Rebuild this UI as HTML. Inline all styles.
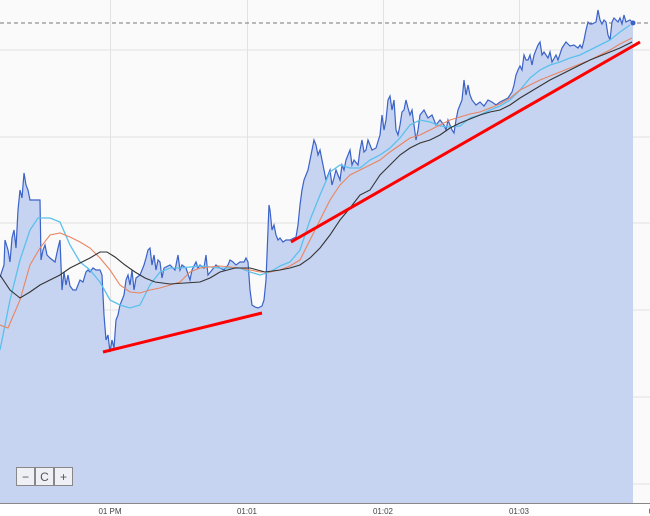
<!DOCTYPE html>
<html><head><meta charset="utf-8"><style>
html,body{margin:0;padding:0;background:#fff;}
svg{display:block;font-family:"Liberation Sans",sans-serif;}
</style></head><body>
<svg width="650" height="516" viewBox="0 0 650 516" xmlns="http://www.w3.org/2000/svg">
<rect x="0" y="0" width="650" height="503" fill="#fafafa"/>
<rect x="0" y="503" width="650" height="13" fill="#fff"/>
<g stroke="#e2e2e2" stroke-width="1">
<line x1="0" y1="50" x2="650" y2="50"/><line x1="0" y1="137" x2="650" y2="137"/>
<line x1="0" y1="223" x2="650" y2="223"/><line x1="0" y1="310" x2="650" y2="310"/>
<line x1="0" y1="397" x2="650" y2="397"/><line x1="0" y1="484" x2="650" y2="484"/>
<line x1="110.5" y1="0" x2="110.5" y2="503"/><line x1="247.5" y1="0" x2="247.5" y2="503"/>
<line x1="383.5" y1="0" x2="383.5" y2="503"/><line x1="519.5" y1="0" x2="519.5" y2="503"/>
</g>
<line x1="0" y1="23" x2="650" y2="23" stroke="#777" stroke-dasharray="4,3" stroke-width="1"/>
<path d="M0,277 L4,265 L5,240 L8,250 L10,262 L12,238 L14,230 L16,248 L18,210 L20,190 L22,198 L24,173 L26,185 L28,190 L30,200 L36,200 L40,200 L41,260 L43,250 L45,245 L47,255 L50,258 L55,262 L58,248 L60,240 L62,290 L64,272 L66,285 L68,275 L70,286 L73,290 L76,290 L80,280 L83,282 L86,272 L88,270 L90,272 L93,268 L96,270 L100,270 L102,275 L104,315 L106,340 L108,335 L110,352 L112,340 L114,348 L116,320 L118,315 L120,305 L122,300 L124,295 L126,280 L128,275 L130,285 L132,270 L134,290 L136,278 L140,275 L142,270 L144,265 L146,258 L148,250 L150,248 L152,265 L154,255 L156,270 L158,260 L160,262 L162,278 L164,268 L170,265 L175,270 L178,255 L180,270 L182,265 L186,268 L190,280 L192,270 L196,262 L198,268 L200,265 L204,268 L206,255 L208,275 L212,270 L216,265 L220,268 L224,270 L228,265 L230,260 L233,262 L236,265 L240,262 L244,262 L246,258 L248,262 L250,290 L252,305 L255,307 L258,308 L262,306 L264,300 L266,280 L268,230 L269,205 L270,210 L272,230 L274,225 L276,235 L278,240 L280,238 L283,242 L286,240 L290,240 L294,238 L296,237 L298,225 L300,205 L302,190 L304,180 L306,175 L308,170 L310,160 L312,150 L314,140 L316,145 L318,155 L320,150 L322,160 L324,170 L326,180 L328,175 L330,170 L332,185 L334,178 L336,170 L338,175 L340,180 L342,165 L344,170 L346,160 L348,155 L350,150 L352,165 L354,160 L358,165 L360,150 L362,140 L364,152 L366,150 L368,140 L372,150 L376,148 L380,135 L382,115 L384,130 L386,120 L388,100 L390,96 L392,110 L394,100 L396,130 L398,135 L400,125 L402,112 L404,110 L406,100 L408,108 L410,115 L412,110 L416,140 L418,130 L420,115 L424,110 L428,118 L432,115 L436,125 L440,120 L444,125 L446,130 L448,120 L452,130 L454,133 L456,120 L458,110 L460,105 L462,100 L464,80 L466,95 L468,85 L470,95 L472,100 L476,105 L480,102 L484,106 L488,100 L492,102 L496,105 L500,102 L504,100 L508,98 L512,92 L514,85 L516,75 L518,70 L520,66 L522,70 L524,55 L526,60 L528,60 L530,55 L532,65 L534,55 L538,45 L540,42 L542,55 L544,52 L548,58 L550,52 L552,62 L556,55 L558,60 L562,48 L566,42 L570,46 L574,45 L578,48 L580,45 L582,48 L584,40 L586,30 L588,22 L590,24 L592,24 L596,22 L598,10 L600,20 L602,24 L604,20 L606,22 L608,35 L610,40 L612,22 L614,18 L618,22 L620,18 L622,24 L624,15 L626,22 L630,20 L633,23 L633,503 L0,503 Z" fill="#c6d4f2" stroke="none"/>
<path d="M0,277 L4,265 L5,240 L8,250 L10,262 L12,238 L14,230 L16,248 L18,210 L20,190 L22,198 L24,173 L26,185 L28,190 L30,200 L36,200 L40,200 L41,260 L43,250 L45,245 L47,255 L50,258 L55,262 L58,248 L60,240 L62,290 L64,272 L66,285 L68,275 L70,286 L73,290 L76,290 L80,280 L83,282 L86,272 L88,270 L90,272 L93,268 L96,270 L100,270 L102,275 L104,315 L106,340 L108,335 L110,352 L112,340 L114,348 L116,320 L118,315 L120,305 L122,300 L124,295 L126,280 L128,275 L130,285 L132,270 L134,290 L136,278 L140,275 L142,270 L144,265 L146,258 L148,250 L150,248 L152,265 L154,255 L156,270 L158,260 L160,262 L162,278 L164,268 L170,265 L175,270 L178,255 L180,270 L182,265 L186,268 L190,280 L192,270 L196,262 L198,268 L200,265 L204,268 L206,255 L208,275 L212,270 L216,265 L220,268 L224,270 L228,265 L230,260 L233,262 L236,265 L240,262 L244,262 L246,258 L248,262 L250,290 L252,305 L255,307 L258,308 L262,306 L264,300 L266,280 L268,230 L269,205 L270,210 L272,230 L274,225 L276,235 L278,240 L280,238 L283,242 L286,240 L290,240 L294,238 L296,237 L298,225 L300,205 L302,190 L304,180 L306,175 L308,170 L310,160 L312,150 L314,140 L316,145 L318,155 L320,150 L322,160 L324,170 L326,180 L328,175 L330,170 L332,185 L334,178 L336,170 L338,175 L340,180 L342,165 L344,170 L346,160 L348,155 L350,150 L352,165 L354,160 L358,165 L360,150 L362,140 L364,152 L366,150 L368,140 L372,150 L376,148 L380,135 L382,115 L384,130 L386,120 L388,100 L390,96 L392,110 L394,100 L396,130 L398,135 L400,125 L402,112 L404,110 L406,100 L408,108 L410,115 L412,110 L416,140 L418,130 L420,115 L424,110 L428,118 L432,115 L436,125 L440,120 L444,125 L446,130 L448,120 L452,130 L454,133 L456,120 L458,110 L460,105 L462,100 L464,80 L466,95 L468,85 L470,95 L472,100 L476,105 L480,102 L484,106 L488,100 L492,102 L496,105 L500,102 L504,100 L508,98 L512,92 L514,85 L516,75 L518,70 L520,66 L522,70 L524,55 L526,60 L528,60 L530,55 L532,65 L534,55 L538,45 L540,42 L542,55 L544,52 L548,58 L550,52 L552,62 L556,55 L558,60 L562,48 L566,42 L570,46 L574,45 L578,48 L580,45 L582,48 L584,40 L586,30 L588,22 L590,24 L592,24 L596,22 L598,10 L600,20 L602,24 L604,20 L606,22 L608,35 L610,40 L612,22 L614,18 L618,22 L620,18 L622,24 L624,15 L626,22 L630,20 L633,23" fill="none" stroke="#3b62c8" stroke-width="1.2"/>
<polyline fill="none" stroke="#5bc0ec" stroke-width="1.3" points="0,350 10,300 20,260 30,230 38,218 50,218 60,222 70,245 80,262 90,270 100,282 110,300 120,305 130,308 140,305 150,285 160,272 170,268 180,268 200,266 220,268 240,268 250,272 260,275 270,272 280,266 290,262 300,250 310,220 320,195 330,172 340,165 350,168 360,168 370,160 380,155 390,148 400,138 410,125 420,120 430,122 440,126 450,127 460,126 470,118 480,115 490,110 500,106 510,100 520,90 530,78 540,70 550,65 560,62 570,58 580,55 590,50 600,45 610,40 620,32 630,25"/>
<polyline fill="none" stroke="#e9845f" stroke-width="1.1" points="0,325 8,328 20,300 30,265 40,248 50,235 60,233 70,237 80,242 90,248 100,258 110,270 120,285 130,292 140,293 150,290 160,288 170,285 180,282 190,272 200,268 220,266 240,268 250,270 260,272 270,272 280,270 290,266 300,260 310,240 320,220 330,200 340,185 350,175 360,170 370,165 380,160 390,152 400,145 410,138 420,135 430,130 440,125 450,120 460,117 470,114 480,112 490,108 500,104 510,98 520,90 530,85 540,80 550,76 560,72 570,68 580,64 590,60 600,55 610,50 620,44 632,38"/>
<polyline fill="none" stroke="#333" stroke-width="1.1" points="0,275 10,290 20,298 30,292 40,285 50,280 60,275 70,268 80,263 90,258 100,252 107,252 115,257 125,265 135,272 145,278 155,282 170,284 185,283 200,282 210,278 220,272 235,268 250,268 265,272 280,270 290,268 300,265 310,258 320,248 330,235 340,220 350,208 360,195 370,190 380,175 390,165 400,155 410,148 420,143 430,140 440,135 450,128 460,123 470,119 480,115 490,112 500,110 510,105 520,98 530,92 540,86 550,80 560,75 570,70 580,65 590,60 600,56 610,52 620,48 632,42"/>
<circle cx="633" cy="23" r="2.5" fill="#3b62c8"/>
<line x1="103" y1="352" x2="262" y2="313" stroke="#ff0000" stroke-width="3"/>
<line x1="291" y1="242" x2="640" y2="42" stroke="#ff0000" stroke-width="3"/>
<line x1="0" y1="503.5" x2="650" y2="503.5" stroke="#888" stroke-width="1"/>
<g fill="#eef0f5" stroke="#888" stroke-width="1">
<rect x="16.5" y="467.5" width="18" height="18"/><rect x="35.5" y="467.5" width="18" height="18"/><rect x="54.5" y="467.5" width="18" height="18"/>
</g>
<g font-size="12" fill="#555" text-anchor="middle">
<text x="25.5" y="481">−</text><text x="44.5" y="481">C</text><text x="63.5" y="481">+</text>
</g>
<g font-size="8" fill="#444" text-anchor="middle">
<text x="110" y="514">01 PM</text><text x="247" y="514">01:01</text><text x="383" y="514">01:02</text><text x="519" y="514">01:03</text><text x="651" y="514">0</text>
</g>
</svg>
</body></html>
